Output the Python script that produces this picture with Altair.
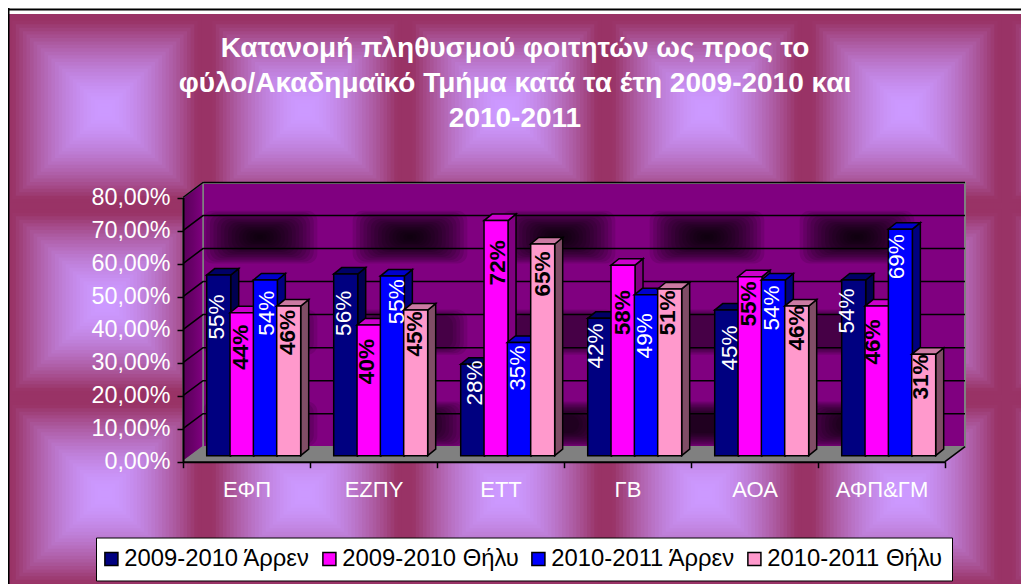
import altair as alt
import pandas as pd

categories = ["ΕΦΠ", "ΕΖΠΥ", "ΕΤΤ", "ΓΒ", "ΑΟΑ", "ΑΦΠ&ΓΜ"]
series = ["2009-2010 Άρρεν", "2009-2010 Θήλυ", "2010-2011 Άρρεν", "2010-2011 Θήλυ"]
colors = ["#000080", "#FF00FF", "#0000FF", "#FF99CC"]
side_colors = ["#000050", "#800080", "#000080", "#804D66"]
top_colors = ["#000066", "#CC00CC", "#0000CC", "#CC7AA3"]
values_m_0910 = [0.547, 0.550, 0.277, 0.416, 0.441, 0.532]
values_f_0910 = [0.433, 0.396, 0.712, 0.577, 0.542, 0.453]
values_m_1011 = [0.532, 0.544, 0.343, 0.487, 0.532, 0.686]
values_f_1011 = [0.453, 0.441, 0.641, 0.505, 0.453, 0.307]
values = [values_m_0910, values_f_0910, values_m_1011, values_f_1011]
labels = [
    ["55%", "56%", "28%", "42%", "45%", "54%"],
    ["44%", "40%", "72%", "58%", "55%", "46%"],
    ["54%", "55%", "35%", "49%", "54%", "69%"],
    ["46%", "45%", "65%", "51%", "46%", "31%"],
]
title_lines = [
    "Κατανομή πληθυσμού φοιτητών ως προς το",
    "φύλο/Ακαδημαϊκό Τμήμα κατά τα έτη 2009-2010 και",
    "2010-2011",
]
FONT = "Liberation Sans"
W, H = 1013, 576

# Layout, in page pixels, turned into data units so everything goes through the scales
PX0, PY0, PY80 = 183.0, 461.7, 197.5
CAT = 127.0
PPU = (PY0 - PY80) / 0.8
def X(px): return (px - PX0) / CAT
def Y(py): return (PY0 - py) / PPU
DX, DY = 20 / CAT, 15 / PPU          # depth of the floor
BDX, BDY = 8 / CAT, 6.5 / PPU        # depth of a bar
BASE = Y(455.7)
BSTART, BSTEP, BW = 23.7 / CAT, 23.33 / CAT, 24 / CAT

label_dx = [
    [-2, -1.7, 2.3, -3.7, 3.3, -6.7],
    [-1.3, -1.7, 2, 0, -1, -4],
    [1.3, 4.9, -1.4, -1.4, -1.4, -3.4],
    [-0.4, -0.7, 0.3, -1.7, 0.3, -2.7],
]
label_dy = [
    [42, 39.3, 18.7, 27.7, 38, 31],
    [34.6, 36.7, 42.3, 47.7, 27.3, 36],
    [33.3, 25.7, 25.7, 41, 28, 27.7],
    [26.3, 24, 30, 24, 22, 22.7],
]

sx = alt.Scale(domain=[0, 6], range=[PX0 - 8, PX0 + 6 * CAT - 8], nice=False, zero=False)
sy = alt.Scale(domain=[0, 0.8], range=[PY0 - 8, PY80 - 8], nice=False, zero=False)
def ex(f="x", axis=None): return alt.X(f"{f}:Q", scale=sx, axis=axis, title=None)
def ey(f="y", axis=None): return alt.Y(f"{f}:Q", scale=sy, axis=axis, title=None)

# Page background: square-gradient tiles
def mix(t):
    a, b = (0x99, 0x33, 0x66), (0xCC, 0x99, 0xFF)
    return "#%02x%02x%02x" % tuple(round(p + (q - p) * t) for p, q in zip(a, b))
rows = []
TW, TH, STEPS = 200.0, 192.0, 28
for ty in range(4):
    for tx in range(6):
        x0, y0 = 5 + tx * TW, 14 + ty * TH
        for s in range(STEPS):
            f = s / STEPS
            t = min(1, max(0, (f - 0.06) / 0.88))
            rows.append(dict(x=X(x0 + f * TW / 2), x2=X(x0 + TW - f * TW / 2),
                             y=Y(y0 + f * TH / 2), y2=Y(y0 + TH - f * TH / 2),
                             c=mix(1 - (1 - t) ** 1.6)))
rows.append(dict(x=X(8), x2=X(9.5), y=Y(8), y2=Y(600), c="#000000"))
rows.append(dict(x=X(8), x2=X(1040), y=Y(8.5), y2=Y(10.5), c="#000000"))
bg = alt.Chart(pd.DataFrame(rows)).mark_rect(strokeWidth=0).encode(
    x=ex(), x2="x2:Q", y=ey(), y2="y2:Q", fill=alt.Fill("c:N", scale=None))

layers = [bg]

# Back wall
wall = alt.Chart(pd.DataFrame([dict(x=X(203), x2=X(965), y=Y(183), y2=Y(447))])).mark_rect(
    fill="#800080", stroke="#808080", strokeWidth=2).encode(x=ex(), x2="x2:Q", y=ey(), y2="y2:Q")
layers.append(wall)

# Dark blotches on the wall: nested translucent rounded rectangles
blobs = []
for cy, levels, hh in [(237, 16, 26), (332, 5, 22), (424, 11, 22)]:
    for cx in [260, 410, 558, 707, 857]:
        for s in range(levels):
            f = (s + 1) / 16
            hw = 58 * (1 - f) + 3
            hv = hh * (1 - f) + 2
            blobs.append(dict(x=X(cx - hw), x2=X(cx + hw), y=Y(max(cy - hv, 184)), y2=Y(min(cy + hv, 446))))
layers.append(alt.Chart(pd.DataFrame(blobs)).mark_rect(
    fill="black", fillOpacity=0.11, strokeWidth=0, cornerRadius=10).encode(
    x=ex(), x2="x2:Q", y=ey(), y2="y2:Q"))

# Left wall
lw = pd.DataFrame([dict(x=0, y=0, y2=0.8), dict(x=DX, y=DY, y2=0.8 + DY)])
layers.append(alt.Chart(lw).mark_area(
    fill=alt.Gradient(gradient="linear", x1=0, x2=1, y1=0, y2=0, stops=[
        alt.GradientStop(offset=0, color="#5a005a"),
        alt.GradientStop(offset=0.5, color="#6a006a"),
        alt.GradientStop(offset=1, color="#800080")]),
    stroke="#808080", strokeWidth=1.5).encode(x=ex(), y=ey(), y2="y2:Q"))

# Floor
fl = pd.DataFrame([dict(x=0, y=0, y2=0), dict(x=DX, y=0, y2=DY),
                   dict(x=6, y=0, y2=DY), dict(x=6 + DX, y=DY, y2=DY)])
layers.append(alt.Chart(fl).mark_area(fill="#808080", stroke="#808080", strokeWidth=1).encode(
    x=ex(), y=ey(), y2="y2:Q"))
edge = pd.DataFrame([dict(x=6, y=0), dict(x=6 + DX, y=DY)])
layers.append(alt.Chart(edge).mark_line(color="black", strokeWidth=1.5).encode(x=ex(), y=ey()))

# Grid lines across the left and back walls, carrying the y axis and the tick part of the x axis
grid = []
for k in range(1, 9):
    v = k / 10
    grid += [dict(g=k, x=0, y=v), dict(g=k, x=DX, y=v + DY), dict(g=k, x=6 + DX, y=v + DY)]
y_axis = alt.Axis(values=[k / 10 for k in range(9)], orient="left", offset=-(PX0 - 8), grid=False,
                  labelExpr="replace(format(datum.value,'.2%'),'.',',')",
                  labelFont=FONT, labelFontSize=23.3, labelColor="white", labelPadding=7,
                  tickSize=6, tickColor="black", tickWidth=1.5, domainColor="black", domainWidth=2, zindex=1)
x_axis = alt.Axis(values=list(range(7)), orient="bottom", offset=(PY0 - 8) - H, grid=False, labels=False,
                  tickSize=6, tickColor="black", tickWidth=1.5, domainColor="black", domainWidth=2, zindex=1)
layers.append(alt.Chart(pd.DataFrame(grid)).mark_line(color="black", strokeWidth=1.5).encode(
    x=ex(axis=x_axis), y=ey(axis=y_axis), detail="g:N"))

# Bars, series by series so each one covers the side of the previous one
for j, name in enumerate(series):
    front, side, top = [], [], []
    for i, cat in enumerate(categories):
        xl = i + BSTART + j * BSTEP
        xr = xl + BW
        t = BASE + values[j][i]
        front.append(dict(x=xl, x2=xr, y=BASE, y2=t, series=name, category=cat))
        side += [dict(b=i, x=xr, y=BASE, y2=t), dict(b=i, x=xr + BDX, y=BASE + BDY, y2=t + BDY)]
        top += [dict(b=i, x=xl, y=t, y2=t), dict(b=i, x=xl + BDX, y=t, y2=t + BDY),
                dict(b=i, x=xr, y=t, y2=t + BDY), dict(b=i, x=xr + BDX, y=t + BDY, y2=t + BDY)]
    layers.append(alt.Chart(pd.DataFrame(side)).mark_area(
        fill=side_colors[j], stroke="black", strokeWidth=1.5).encode(
        x=ex(), y=ey(), y2="y2:Q", detail="b:N"))
    layers.append(alt.Chart(pd.DataFrame(top)).mark_area(
        fill=top_colors[j], stroke="black", strokeWidth=1.5).encode(
        x=ex(), y=ey(), y2="y2:Q", detail="b:N"))
    layers.append(alt.Chart(pd.DataFrame(front)).mark_rect(stroke="black", strokeWidth=1.5).encode(
        x=ex(), x2="x2:Q", y=ey(), y2="y2:Q",
        color=alt.Color("series:N", scale=alt.Scale(domain=series, range=colors),
                        sort=series,
                        legend=alt.Legend(orient="none", legendX=88, legendY=529.5, direction="horizontal",
                                          columns=4, title=None, fillColor="white", strokeColor="black",
                                          padding=9.5, labelFont=FONT, labelFontSize=23.8, labelColor="black",
                                          symbolType="square", symbolSize=170, symbolStrokeColor="black",
                                          symbolStrokeWidth=1.5, symbolOpacity=1, columnPadding=9,
                                          labelOffset=1, labelLimit=300, symbolOffset=-6))))

# Data labels
for j in range(4):
    rows = []
    for i in range(6):
        rows.append(dict(
            x=i + BSTART + j * BSTEP + (12 + label_dx[j][i]) / CAT,
            y=BASE + values[j][i] - label_dy[j][i] / PPU,
            t=labels[j][i]))
    layers.append(alt.Chart(pd.DataFrame(rows)).mark_text(
        angle=270, align="center", baseline="middle", font=FONT, fontSize=22.5,
        color="white" if j % 2 == 0 else "black",
        fontWeight="normal" if j % 2 == 0 else "bold").encode(x=ex(), y=ey(), text="t:N"))

# Category labels axis
cat_expr = "[" + ",".join(f"'{c}'" for c in categories) + "][floor(datum.value)]"
cat_axis = alt.Axis(values=[i + 0.5 for i in range(6)], orient="bottom", offset=(PY0 - 8) - H,
                    ticks=False, domain=False, grid=False, labelExpr=cat_expr,
                    labelFont=FONT, labelFontSize=22, labelColor="white", labelPadding=18, zindex=1)
layers.append(alt.Chart(pd.DataFrame({"x": [i + 0.5 for i in range(6)], "y": [0] * 6})).mark_point(opacity=0).encode(
    x=ex(axis=cat_axis), y=ey()))

chart = alt.layer(*layers).resolve_axis(x="independent", y="independent").properties(
    width=W, height=H, padding=0,
    autosize=alt.AutoSizeParams(type="none"),
    title=alt.TitleParams(text=title_lines, font=FONT, fontSize=28, fontWeight="bold", color="white",
                          anchor="middle", baseline="top", dy=125, dx=-3.5 + (1021 - W) / 2, lineHeight=35, offset=0),
).configure_view(stroke=None)

chart.save("out.html", embed_options={"renderer": "svg", "actions": False})
